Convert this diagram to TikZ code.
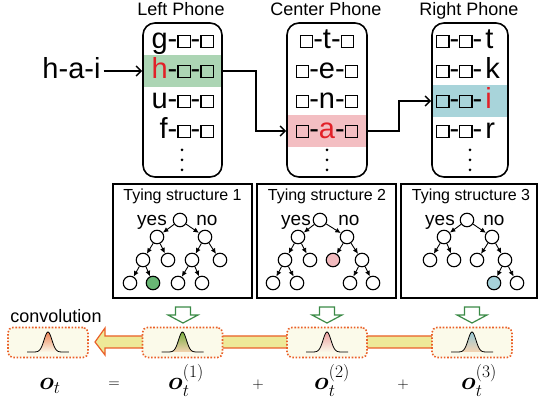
\RequirePackage{fix-cm}
\documentclass[tikz,border=0pt]{standalone}
\usepackage[no-math]{fontspec}
\setmainfont{Liberation Sans}
\usepackage{amsmath}
\usepackage{bm}
\usepackage{xcolor}
\usepackage{tikz}
\usetikzlibrary{arrows.meta, backgrounds}

\definecolor{bandgreen}{RGB}{172,213,180}
\definecolor{bandpink}{RGB}{243,190,194}
\definecolor{bandcyan}{RGB}{168,212,218}
\definecolor{leafgreen}{RGB}{104,182,116}
\definecolor{leafpink}{RGB}{242,186,190}
\definecolor{leafcyan}{RGB}{166,210,218}
\definecolor{phred}{RGB}{226,32,40}
\definecolor{dotorange}{RGB}{234,96,40}
\definecolor{cream}{RGB}{251,250,234}
\definecolor{bandyellow}{RGB}{238,233,152}
\definecolor{hollowgreen}{RGB}{58,138,70}
\definecolor{gaussorange}{RGB}{238,132,86}
\definecolor{gaussgreen}{RGB}{120,172,62}
\definecolor{gausspink}{RGB}{236,160,160}
\definecolor{gaussblue}{RGB}{150,200,212}
\definecolor{gausspeach}{RGB}{246,212,178}

\newcommand{\bx}{\raisebox{2pt}{\setlength{\fboxsep}{0pt}\setlength{\fboxrule}{1.2pt}\fbox{\rule{0pt}{11pt}\hspace{11pt}}}}
\newcommand{\titlefont}{\fontsize{18}{21}\selectfont}
\newcommand{\tiefont}{\fontsize{16}{19}\selectfont}
\newcommand{\yesnofont}{\fontsize{19}{22}\selectfont}
\newcommand{\eqfont}{\fontsize{25}{30}\selectfont}

\tikzset{
	phonebox/.style={draw, line width=1.6pt, rounded corners=12pt, minimum width=79, minimum height=154},
	rowtext/.style={inner sep=0pt, text height=21pt, text depth=5.5pt, font=\fontsize{29}{33}\selectfont},
	flow/.style={line width=1.5pt, -{Straight Barb[length=5pt,width=10pt]}},
	tiebox/.style={draw, line width=1.4pt, minimum width=139, minimum height=114},
	leaf/.style={circle, draw, line width=1.1pt, fill=white, minimum size=13.5pt, inner sep=0pt},
	branch/.style={line width=0.9pt, -{Latex[length=5.5pt,width=5pt]}},
	gbox/.style={draw=dotorange, fill=cream, line width=1.6pt, dash pattern=on 1.6pt off 1.7pt, rounded corners=5pt, minimum width=80, minimum height=30},
	hollow/.style={draw=hollowgreen, fill=white, line width=1.2pt}
}

\begin{document}
\begin{tikzpicture}[x=1pt, y=-1pt]
	\useasboundingbox (0,0) rectangle (539,403);

	\node[font=\titlefont, anchor=base] (ltitle) at (181,16) {Left Phone};
	\node[font=\titlefont, anchor=base] (ctitle) at (326,16) {Center Phone};
	\node[font=\titlefont, anchor=base] (rtitle) at (469,16) {Right Phone};

	\node[phonebox] (lbox) at (182.5,100) {};
	\node[phonebox, minimum width=80] (cbox) at (327,100) {};
	\node[phonebox, minimum width=76] (rbox) at (470,100) {};

	\foreach \n/\y/\t in {lg/41/g, lh/71/\textcolor{phred}{h}, lu/101/u, lf/131/f}
		\node[rowtext, anchor=east] (\n) at (214,\y) {\t-\bx-\bx};
	\foreach \n/\y/\t in {ct/41/t, ce/71/e, cn/101/n, ca/131/\textcolor{phred}{a}}
		\node[rowtext] (\n) at (327,\y) {\bx-\t-\bx};
	\foreach \n/\y/\t in {rt/41/t, rk/71/k, ri/101/\textcolor{phred}{i}, rr/131/r}
		\node[rowtext, anchor=west] (\n) at (436,\y) {\bx-\bx-\hspace{3pt}\t};

	\foreach \x in {182,327,470}
		\foreach \y in {150,160,170}
			\fill (\x,\y) circle (1.5pt);

	\begin{scope}[on background layer]
		\fill[bandgreen] ([yshift=16pt]lbox.west |- lh) rectangle ([yshift=-16pt]lbox.east |- lh);
		\fill[bandpink] ([yshift=16pt]cbox.west |- ca) rectangle ([yshift=-16pt]cbox.east |- ca);
		\fill[bandcyan] ([yshift=16pt]rbox.west |- ri) rectangle ([yshift=-16pt]rbox.east |- ri);
	\end{scope}

	\node[rowtext] (hai) at (71.5,71) {h-a-i};
	\draw[flow] ([xshift=3pt]hai.east) -- (hai -| lbox.west);
	\draw[flow] (lh -| lbox.east) -- ++(33,0) |- (ca -| cbox.west);
	\draw[flow] (ca -| cbox.east) -- ++(31,0) |- (ri -| rbox.west);

	\node[tiebox] (t1) at (182.5,241) {};
	\node[tiebox] (t2) at (326.5,241) {};
	\node[tiebox, minimum width=136] (t3) at (469,241) {};
	\foreach \x/\k in {182.5/1, 327/2, 471/3}
		\node[font=\tiefont, anchor=base] (tt\k) at (\x,201) {Tying structure \k};
	\foreach \x/\k in {152/1, 296/2, 440/3}
		\node[font=\yesnofont, anchor=base] (yes\k) at (\x,226) {yes};
	\foreach \x/\k in {207/1, 349/2, 494/3}
		\node[font=\yesnofont, anchor=base] (no\k) at (\x,226) {no};

	\foreach \n/\x/\y/\c in {
		ur/180/220/white, ua/157/237/white, ub/205/237/white,
		uaa/143/260/white, uab/168/260/white, uba/192/260/white, ubb/220/260/white,
		uaaa/130/283/white, uaab/153/283/leafgreen, ubaa/178/283/white, ubab/202/283/white,
		vr/320/220/white, va/298/237/white, vb/347/237/white,
		vaa/285/260/white, vab/310/260/white, vba/333/260/leafpink, vbb/362/260/white,
		vaaa/273/283/white, vaab/297/283/white, vbba/350/283/white, vbbb/373/283/white,
		wr/467/220/white, wa/444/237/white, wb/492/237/white,
		waa/430/260/white, wab/454/260/white, wba/477/260/white, wbb/505/260/white,
		wbba/494/283/leafcyan, wbbb/517/283/white}
		\node[leaf, fill=\c] (\n) at (\x,\y) {};

	\foreach \p/\q in {
		ur/ua, ur/ub, ua/uaa, ua/uab, ub/uba, ub/ubb, uaa/uaaa, uaa/uaab, uba/ubaa, uba/ubab,
		vr/va, vr/vb, va/vaa, va/vab, vb/vba, vb/vbb, vaa/vaaa, vaa/vaab, vbb/vbba, vbb/vbbb,
		wr/wa, wr/wb, wa/waa, wa/wab, wb/wba, wb/wbb, wbb/wbba, wbb/wbbb}
		\draw[branch] (\p) -- (\q);

	\foreach \x in {183,327,472}
		\draw[hollow] (\x-7.5,307) -- (\x+7.5,307) -- (\x+7.5,315) -- (\x+15,315)
			-- (\x,323) -- (\x-15,315) -- (\x-7.5,315) -- cycle;

	\node[gbox] (conv) at (48,342.5) {};
	\node[gbox] (g1) at (182.5,342.5) {};
	\node[gbox] (g2) at (327,342.5) {};
	\node[gbox] (g3) at (472,342.5) {};
	\node[font=\titlefont, anchor=base] (convlabel) at (56,323) {convolution};

	\begin{scope}[on background layer]
		\filldraw[fill=bandyellow, draw=dotorange, line width=1.2pt]
			(g3.center |- 0,336) -- (105,336) -- (105,328) -- (95,342)
			-- (105,355) -- (105,348) -- (g3.center |- 0,348) -- cycle;
	\end{scope}

	\foreach \cx/\tc/\bc in {48/gaussorange/cream, 182.5/gaussgreen/gausspeach, 327/gausspink/cream, 472/gaussblue/gausspeach}{
		\shade[top color=\tc, bottom color=\bc]
			plot[domain=-21:21, samples=60] ({\cx+\x}, {352-20*exp(-(\x/5.5)*(\x/5.5))}) -- cycle;
		\draw[line width=0.8pt]
			plot[domain=-21:21, samples=60] ({\cx+\x}, {352-20*exp(-(\x/5.5)*(\x/5.5))});
	}

	\node[font=\eqfont, anchor=base] (ot) at (50,390) {$\bm{o}_t$};
	\node[font=\fontsize{15}{18}\selectfont] (eq) at (114,385) {$=$};
	\node[font=\eqfont, anchor=base] (o1) at (186,390) {$\bm{o}_t^{(1)}$};
	\node[font=\fontsize{15}{18}\selectfont] (plus1) at (258,385) {$+$};
	\node[font=\eqfont, anchor=base] (o2) at (332,390) {$\bm{o}_t^{(2)}$};
	\node[font=\fontsize{15}{18}\selectfont] (plus2) at (403,385) {$+$};
	\node[font=\eqfont, anchor=base] (o3) at (479,390) {$\bm{o}_t^{(3)}$};
\end{tikzpicture}
\end{document}
